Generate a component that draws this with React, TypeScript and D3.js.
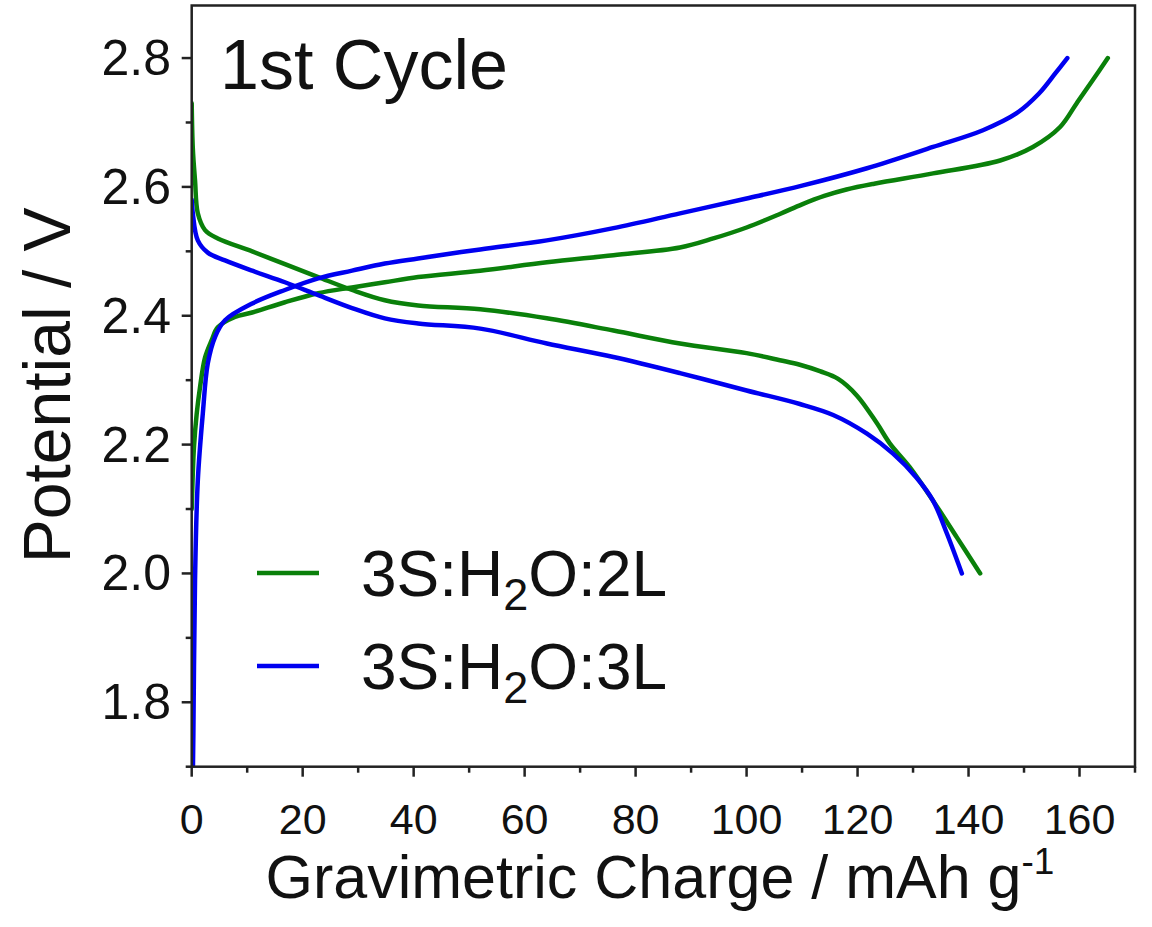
import React from "react";
import * as d3 from "d3";

// Charge (Q, mAh/g) and potential (V) pairs
const green2L_dischargeQ = [0, 0.2, 0.6, 1.1, 2.4, 4.7, 10.9, 16.8, 22.8, 28.9, 34.8, 40.8, 52, 64, 76, 88, 100, 106, 109.6, 113.2, 116.5, 119.9, 123.5, 125.8, 129.4, 133.6, 137.9, 142.1];
const green2L_dischargeV = [2.73, 2.66, 2.61, 2.559, 2.533, 2.52, 2.5, 2.48, 2.46, 2.44, 2.424, 2.416, 2.41, 2.396, 2.377, 2.357, 2.342, 2.331, 2.324, 2.314, 2.302, 2.276, 2.233, 2.202, 2.165, 2.113, 2.056, 2.0];

const blue3L_dischargeQ = [0, 0.2, 1.1, 2.9, 6.0, 10.9, 16.8, 22.8, 28.9, 34.8, 40.8, 52, 64, 76, 88, 100, 109.6, 115.6, 121.7, 126.4, 130.6, 133.6, 136.1, 138.8];
const blue3L_dischargeV = [2.58, 2.559, 2.517, 2.498, 2.486, 2.47, 2.452, 2.432, 2.412, 2.396, 2.388, 2.38, 2.357, 2.336, 2.311, 2.284, 2.263, 2.246, 2.217, 2.186, 2.149, 2.113, 2.062, 2.0];

const green2L_chargeQ = [0, 0.4, 0.9, 1.5, 2.4, 3.6, 4.7, 7.8, 10.9, 16.8, 22.8, 28.9, 34.8, 40.8, 52, 64, 76, 88, 94, 100, 106, 110, 114, 118, 123, 133.6, 145.7, 151.6, 156.5, 159.5, 162.4, 165.1];
const green2L_chargeV = [2.1, 2.195, 2.248, 2.289, 2.335, 2.362, 2.382, 2.398, 2.405, 2.421, 2.435, 2.444, 2.452, 2.46, 2.47, 2.483, 2.494, 2.506, 2.52, 2.537, 2.558, 2.573, 2.586, 2.596, 2.605, 2.621, 2.641, 2.662, 2.693, 2.73, 2.766, 2.8];

const blue3L_chargeQ = [0, 0.3, 0.6, 1.1, 2.0, 2.9, 4.2, 6.0, 10.9, 16.8, 22.8, 28.9, 34.8, 40.8, 52, 64, 76, 88, 100, 110, 121.7, 133.6, 142.6, 148.6, 152.7, 155.7, 157.8];
const blue3L_chargeV = [1.55, 1.75, 1.99, 2.144, 2.248, 2.326, 2.367, 2.393, 2.419, 2.44, 2.458, 2.47, 2.481, 2.489, 2.503, 2.517, 2.536, 2.559, 2.582, 2.602, 2.629, 2.662, 2.688, 2.714, 2.745, 2.777, 2.8];

const xTicks = [0, 20, 40, 60, 80, 100, 120, 140, 160];
const xMinorTicks = [10, 30, 50, 70, 90, 110, 130, 150, 170];
const yTicks = [1.8, 2.0, 2.2, 2.4, 2.6, 2.8];
const yMinorTicks = [1.7, 1.9, 2.1, 2.3, 2.5, 2.7];

const GREEN = "#0a800a";
const BLUE = "#0000f0";
const FONT = "'Liberation Sans', Arial, sans-serif";

const zip = (q: number[], v: number[]) => q.map((d, i) => [d, v[i]] as [number, number]);

export default function App() {
  const W = 1152, H = 927;
  const L = 191.7, R = 1135, T = 5.5, B = 766.7;
  const x = d3.scaleLinear().domain([0, 170]).range([L, R]);
  const y = d3.scaleLinear().domain([1.7, 2.8816]).range([B, T]);
  const lineV = d3.line<[number, number]>().x(d => x(d[0])).y(d => y(d[1])).curve(d3.curveCatmullRom.alpha(0.5));

  const series = [
    { d: zip(green2L_dischargeQ, green2L_dischargeV), c: GREEN },
    { d: zip(green2L_chargeQ, green2L_chargeV), c: GREEN },
    { d: zip(blue3L_dischargeQ, blue3L_dischargeV), c: BLUE },
    { d: zip(blue3L_chargeQ, blue3L_chargeV), c: BLUE },
  ];

  const legend = [
    { label: "2L", c: GREEN },
    { label: "3L", c: BLUE },
  ];

  return (
    <svg width={W} height={H} style={{ position: "absolute", left: 0, top: 0, background: "#fff" }} fontFamily={FONT}>
      <defs>
        <clipPath id="plot">
          <rect x={L} y={T} width={R - L} height={B - T} />
        </clipPath>
      </defs>
      <rect x={0} y={0} width={W} height={H} fill="#fff" />
      <g clipPath="url(#plot)">
        {series.map((s, i) => (
          <path key={i} d={lineV(s.d) || ""} fill="none" stroke={s.c} strokeWidth={4.5} strokeLinejoin="round" strokeLinecap="round" />
        ))}
      </g>
      <rect x={L} y={T} width={R - L} height={B - T} fill="none" stroke="#222" strokeWidth={2.5} />
      {xTicks.map(t => (
        <g key={"x" + t}>
          <line x1={x(t)} x2={x(t)} y1={B} y2={B + 10} stroke="#222" strokeWidth={2.5} />
          <text x={x(t)} y={834} fontSize={43} textAnchor="middle" fill="#111">{t}</text>
        </g>
      ))}
      {xMinorTicks.map(t => (
        <line key={"xm" + t} x1={x(t)} x2={x(t)} y1={B} y2={B + 6} stroke="#222" strokeWidth={2.5} />
      ))}
      {yTicks.map(t => (
        <g key={"y" + t}>
          <line x1={L} x2={L - 10} y1={y(t)} y2={y(t)} stroke="#222" strokeWidth={2.5} />
          <text x={171} y={y(t) + 17} fontSize={50} textAnchor="end" fill="#111">{t.toFixed(1)}</text>
        </g>
      ))}
      {yMinorTicks.map(t => (
        <line key={"ym" + t} x1={L} x2={L - 6} y1={y(t)} y2={y(t)} stroke="#222" strokeWidth={2.5} />
      ))}
      <text x={660} y={898} fontSize={61} textAnchor="middle" fill="#111">
        Gravimetric Charge / mAh g<tspan dy={-24} fontSize={37}>-1</tspan>
      </text>
      <text transform={`translate(70, ${y(2.292)}) rotate(-90)`} fontSize={66} textAnchor="middle" fill="#111">Potential / V</text>
      <text x={220} y={89} fontSize={70} fill="#111">1st Cycle</text>
      {legend.map((l, i) => {
        const yy = 573 + i * 93;
        return (
          <g key={l.label}>
            <line x1={257} x2={319} y1={yy} y2={yy} stroke={l.c} strokeWidth={4.5} />
            <text x={361} y={yy + 23} fontSize={64} fill="#111">
              3S:H<tspan dy={14} fontSize={45}>2</tspan><tspan dy={-14}>O:{l.label}</tspan>
            </text>
          </g>
        );
      })}
    </svg>
  );
}
